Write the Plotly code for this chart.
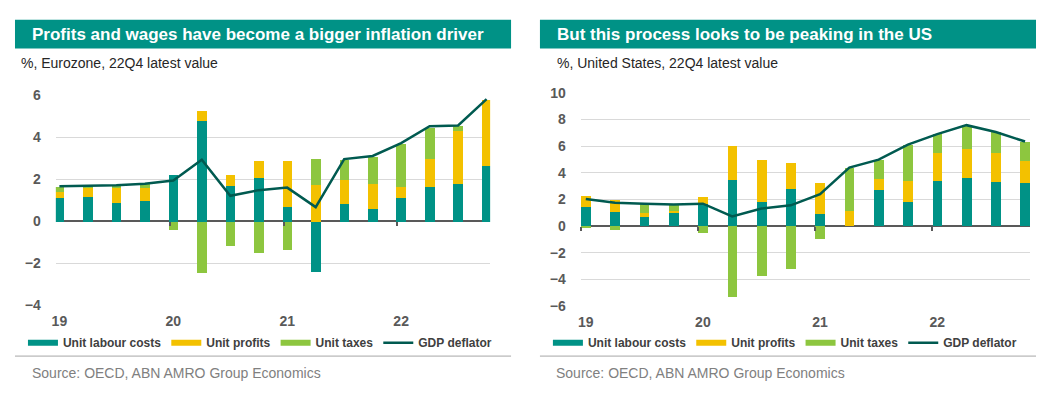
import plotly.graph_objects as go

quarters = ["19Q1", "19Q2", "19Q3", "19Q4", "20Q1", "20Q2", "20Q3", "20Q4",
            "21Q1", "21Q2", "21Q3", "21Q4", "22Q1", "22Q2", "22Q3", "22Q4"]
year_labels = ["19", "20", "21", "22"]

# Eurozone
ez_labour = [1.14, 1.17, 0.91, 1.00, 2.25, 4.79, 1.69, 2.10, 0.73, -2.39, 0.85, 0.61, 1.14, 1.64, 1.80, 2.66]
ez_profits = [0.28, 0.43, 0.73, 0.61, 0.00, 0.49, 0.56, 0.79, 2.16, 1.75, 1.15, 1.19, 0.53, 1.37, 2.51, 3.17]
ez_taxes = [0.25, 0.10, 0.08, 0.18, -0.37, -2.42, -1.14, -1.48, -1.35, 1.26, 0.94, 1.29, 2.03, 1.48, 0.26, 0.00]
ez_deflator = [1.67, 1.69, 1.72, 1.80, 1.95, 2.94, 1.22, 1.49, 1.61, 0.68, 2.97, 3.12, 3.73, 4.54, 4.57, 5.83]

# United States
us_labour = [1.44, 1.10, 0.67, 0.96, 1.70, 3.43, 1.80, 2.76, 0.91, 0.00, 2.71, 1.82, 3.38, 3.60, 3.31, 3.24]
us_profits = [0.79, 0.89, 0.31, 0.19, 0.46, 2.57, 3.19, 1.99, 2.33, 1.15, 0.84, 1.56, 2.09, 2.23, 2.16, 1.68]
us_taxes = [-0.15, -0.29, 0.70, 0.48, -0.53, -5.32, -3.77, -3.24, -0.94, 3.24, 1.44, 2.69, 1.44, 1.72, 1.60, 1.43]
us_deflator = [2.04, 1.75, 1.68, 1.63, 1.68, 0.72, 1.32, 1.56, 2.40, 4.39, 4.99, 6.12, 6.91, 7.58, 7.07, 6.35]

series_names = ["Unit labour costs", "Unit profits", "Unit taxes", "GDP deflator"]

TEAL = "#009286"
YELLOW = "#F3C100"
LGREEN = "#8DC63F"
DARK = "#005A50"
AXIS = "#595959"
FONT = "Arial, Liberation Sans, sans-serif"

# page is 1047x397; the default body margin of 8px surrounds the figure
M = 8
W, H = 1047 - 2 * M, 397 - 2 * M


def px(xp):
    return (xp - M) / W


def py(yp):
    return (H - (yp - M)) / H


x = list(range(len(quarters)))
tickvals = [quarters.index(y + "Q1") for y in year_labels]

panels = [
    dict(xa="x", ya="y", xt="x3", legend="legend", data=(ez_labour, ez_profits, ez_taxes, ez_deflator),
         bw=0.34, xdom=[px(52), px(488)], xr=[-0.125, 15.125], ydom=[py(310), py(91)], yr=[-4, 6],
         tickshift=0.13),
    dict(xa="x2", ya="y2", xt="x4", legend="legend2", data=(us_labour, us_profits, us_taxes, us_deflator),
         bw=0.33, xdom=[px(579), px(1030)], xr=[-0.17, 15.17], ydom=[py(310.7), py(88.3)], yr=[-6, 10],
         tickshift=0.17),
]

fig = go.Figure()

for p in panels:
    labour, profits, taxes, deflator = p["data"]
    for vals, col, name in [(labour, TEAL, series_names[0]),
                            (profits, YELLOW, series_names[1]),
                            (taxes, LGREEN, series_names[2])]:
        fig.add_trace(go.Bar(x=x, y=vals, marker=dict(color=col, line=dict(width=0)),
                             width=p["bw"], xaxis=p["xa"], yaxis=p["ya"], showlegend=False, name=name))
    fig.add_trace(go.Scatter(x=x, y=deflator, mode="lines", line=dict(color=DARK, width=2.5),
                             xaxis=p["xa"], yaxis=p["ya"], showlegend=False, name=series_names[3]))
    for col, name, wdt in [(TEAL, series_names[0], 6), (YELLOW, series_names[1], 6),
                           (LGREEN, series_names[2], 6), (DARK, series_names[3], 2.5)]:
        fig.add_trace(go.Scatter(x=[None], y=[None], mode="lines", line=dict(color=col, width=wdt),
                                 name=name, xaxis=p["xa"], yaxis=p["ya"], legend=p["legend"], showlegend=True))
    # helper trace for the axis carrying the small tick marks on the zero line
    fig.add_trace(go.Scatter(x=[None], y=[None], mode="lines", xaxis=p["xt"], yaxis=p["ya"],
                             showlegend=False, hoverinfo="skip"))

tickfont = dict(family=FONT, size=14, color=AXIS, weight="bold")
legfont = dict(family=FONT, size=12, color="#404040", weight="bold")

layout = dict(
    width=W, height=H, autosize=False,
    margin=dict(l=0, r=0, t=0, b=0),
    paper_bgcolor="white", plot_bgcolor="white",
    barmode="relative", bargap=0,
    font=dict(family=FONT),
    legend=dict(orientation="h", x=px(19), y=py(349), xanchor="left", yanchor="middle",
                font=legfont, bgcolor="rgba(0,0,0,0)", itemwidth=30, tracegroupgap=0),
    legend2=dict(orientation="h", x=px(546), y=py(349), xanchor="left", yanchor="middle",
                 font=legfont, bgcolor="rgba(0,0,0,0)", itemwidth=30, tracegroupgap=0),
)

for p in panels:
    xkey = "xaxis" + p["xa"][1:]
    ykey = "yaxis" + p["ya"][1:]
    tkey = "xaxis" + p["xt"][1:]
    layout[xkey] = dict(domain=p["xdom"], range=p["xr"], anchor=p["ya"],
                        tickmode="array", tickvals=tickvals, ticktext=year_labels,
                        showgrid=False, zeroline=False, showline=False, ticks="",
                        tickfont=tickfont, ticklabelstandoff=6, fixedrange=True)
    layout[ykey] = dict(domain=p["ydom"], range=p["yr"], dtick=2, anchor=p["xa"],
                        showgrid=True, gridcolor="#D9D9D9", gridwidth=1, zeroline=True,
                        zerolinecolor=AXIS, zerolinewidth=2, ticks="", tickfont=tickfont,
                        ticklabelstandoff=14, showline=False, fixedrange=True)
    y0, y1 = p["ydom"]
    r0, r1 = p["yr"]
    zero_pos = y0 + (0 - r0) / (r1 - r0) * (y1 - y0)
    layout[tkey] = dict(domain=p["xdom"], range=p["xr"], overlaying=p["xa"], anchor="free",
                        position=zero_pos, side="bottom", showgrid=False, zeroline=False,
                        showline=False, showticklabels=False, ticks="outside", ticklen=4,
                        tickwidth=2, tickcolor=AXIS, tickmode="array",
                        tickvals=[t - p["tickshift"] for t in tickvals], fixedrange=True)

fig.update_layout(**layout)

shapes = []
for x0, x1 in [(11, 509), (538, 1036)]:
    shapes.append(dict(type="rect", xref="paper", yref="paper", x0=px(x0), x1=px(x1),
                       y0=py(42), y1=py(12), fillcolor=TEAL, line=dict(width=0), layer="below"))
    shapes.append(dict(type="line", xref="paper", yref="paper", x0=px(x0), x1=px(x1),
                       y0=py(363), y1=py(363), line=dict(color="#A6A6A6", width=1)))
fig.update_layout(shapes=shapes)

annos = []
for txt, xp in [("Profits and wages have become a bigger inflation driver", 26),
                ("But this process looks to be peaking in the US", 553)]:
    annos.append(dict(text=txt, xref="paper", yref="paper", x=px(xp), y=py(27),
                      xanchor="left", yanchor="middle", showarrow=False,
                      font=dict(family=FONT, size=17, color="white", weight="bold")))
for txt, xp in [("%, Eurozone, 22Q4 latest value", 15),
                ("%, United States, 22Q4 latest value", 553)]:
    annos.append(dict(text=txt, xref="paper", yref="paper", x=px(xp), y=py(57),
                      xanchor="left", yanchor="middle", showarrow=False,
                      font=dict(family=FONT, size=14, color="#262626")))
for xp in [26, 552]:
    annos.append(dict(text="Source: OECD, ABN AMRO Group Economics", xref="paper", yref="paper",
                      x=px(xp), y=py(381), xanchor="left", yanchor="middle", showarrow=False,
                      font=dict(family=FONT, size=14, color="#808080")))
fig.update_layout(annotations=annos)

fig.write_html("out.html", config={"displayModeBar": False})
